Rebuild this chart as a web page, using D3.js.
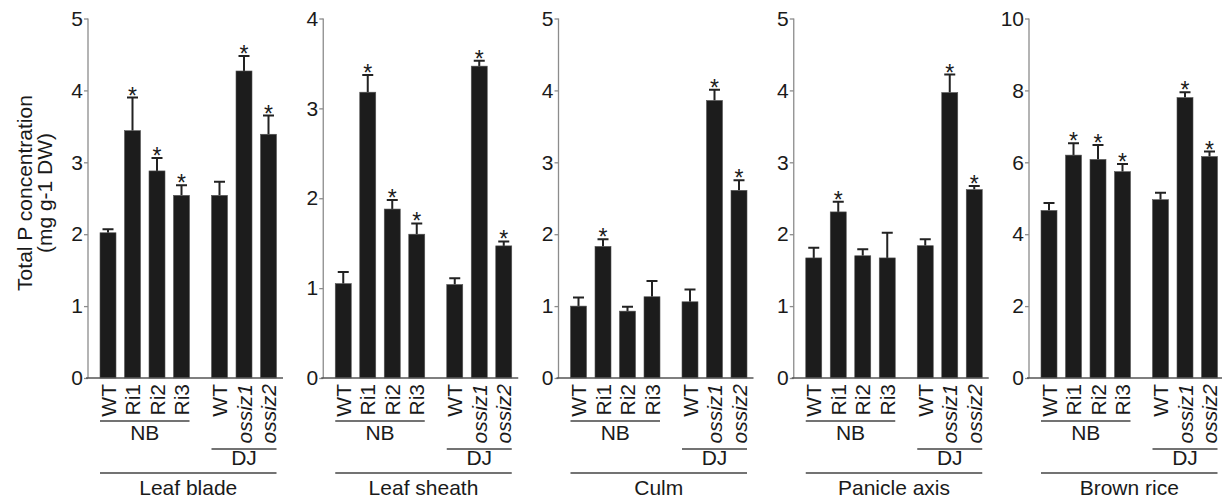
<!DOCTYPE html>
<html>
<head>
<meta charset="utf-8">
<script src="https://cdn.jsdelivr.net/npm/d3@7"></script>
<style>
  html, body { margin: 0; padding: 0; background: #fff; }
  svg { display: block; }
  text { font-family: "Liberation Sans", Arial, sans-serif; fill: #1a1a1a; }
</style>
</head>
<body>
<svg id="chart" width="1222" height="498"></svg>
<script>
// ---- data ----
const panelTitles = ["Leaf blade", "Leaf sheath", "Culm", "Panicle axis", "Brown rice"];
const categories = ["WT", "Ri1", "Ri2", "Ri3", "WT", "ossiz1", "ossiz2"];
const italicCats = [false, false, false, false, false, true, true];
const groupNames = ["NB", "DJ"];
const groupOf = [0, 0, 0, 0, 1, 1, 1];

const leafBlade      = [2.02, 3.44, 2.88, 2.54, 2.54, 4.27, 3.39];
const leafBladeErr   = [0.05, 0.46, 0.18, 0.14, 0.19, 0.21, 0.26];
const leafSheath     = [1.05, 3.18, 1.88, 1.60, 1.04, 3.47, 1.47];
const leafSheathErr  = [0.13, 0.19, 0.10, 0.12, 0.07, 0.06, 0.05];
const culm           = [1.00, 1.83, 0.93, 1.13, 1.06, 3.86, 2.61];
const culmErr        = [0.12, 0.10, 0.06, 0.22, 0.17, 0.15, 0.14];
const panicleAxis    = [1.67, 2.31, 1.70, 1.67, 1.84, 3.97, 2.62];
const panicleAxisErr = [0.14, 0.14, 0.09, 0.35, 0.09, 0.25, 0.05];
const brownRice      = [4.66, 6.20, 6.08, 5.74, 4.96, 7.80, 6.16];
const brownRiceErr   = [0.21, 0.33, 0.40, 0.21, 0.19, 0.15, 0.14];

const leafBladeSig   = [0, 1, 1, 1, 0, 1, 1];
const leafSheathSig  = [0, 1, 1, 1, 0, 1, 1];
const culmSig        = [0, 1, 0, 0, 0, 1, 1];
const panicleAxisSig = [0, 1, 0, 0, 0, 1, 1];
const brownRiceSig   = [0, 1, 1, 1, 0, 1, 1];

const yMax = [5, 4, 5, 5, 10];
const yTicks = [[0,1,2,3,4,5], [0,1,2,3,4], [0,1,2,3,4,5], [0,1,2,3,4,5], [0,2,4,6,8,10]];

const yLabel1 = "Total P concentration";
const yLabel2 = "(mg g-1 DW)";

const panelValues = [leafBlade, leafSheath, culm, panicleAxis, brownRice];
const panelErrors = [leafBladeErr, leafSheathErr, culmErr, panicleAxisErr, brownRiceErr];
const panelSig = [leafBladeSig, leafSheathSig, culmSig, panicleAxisSig, brownRiceSig];

// ---- layout ----
const svg = d3.select("#chart");
const y0 = 378, yTop = 18.5;
const axisX0 = 88, panelStep = 235.25;
const barOffset = 12, slot = 24.5, groupGap = 13.5, barW = 16;
const fontMain = 21;

const slotPos = categories.map((c, i) => i + (groupOf[i] === 1 ? groupGap / slot : 0));

panelTitles.forEach((title, p) => {
  const ax = axisX0 + p * panelStep;
  const g = svg.append("g");
  const y = d3.scaleLinear().domain([0, yMax[p]]).range([y0, yTop]);
  const x = d3.scaleLinear().domain([0, 1]).range([ax + barOffset, ax + barOffset + slot]);
  const vals = panelValues[p], errs = panelErrors[p], sig = panelSig[p];

  const yAxis = g.append("g").attr("transform", `translate(${ax},0)`)
    .call(d3.axisLeft(y).tickValues(yTicks[p]).tickSize(4).tickPadding(1).tickFormat(d3.format("d")));
  yAxis.select(".domain").attr("stroke", "#8c8c8c").attr("stroke-width", 1.3).attr("d", `M0,${y0}V${yTop}`);
  yAxis.selectAll(".tick line").attr("stroke", "#8c8c8c").attr("stroke-width", 1.3);
  yAxis.selectAll(".tick text").attr("font-size", 21).attr("font-family", '"Liberation Sans", Arial, sans-serif').attr("fill", "#1a1a1a");

  const data = vals.map((v, i) => ({ v, e: errs[i], s: sig[i], i }));
  g.selectAll(".err").data(data).enter().append("path")
    .attr("d", d => {
      const cx = x(slotPos[d.i]) + barW / 2;
      const yt = y(d.v + d.e);
      return `M${cx},${y(d.v)}V${yt}M${cx - 5.5},${yt}H${cx + 5.5}`;
    })
    .attr("stroke", "#222").attr("stroke-width", 2).attr("fill", "none");
  g.selectAll(".bar").data(data).enter().append("rect")
    .attr("x", d => x(slotPos[d.i]))
    .attr("width", barW)
    .attr("y", d => y(d.v))
    .attr("height", d => y0 - y(d.v))
    .attr("fill", "#1c1c1c")
    .attr("stroke", "#555").attr("stroke-width", 0.6);
  g.selectAll(".star").data(data.filter(d => d.s)).enter().append("text")
    .attr("x", d => x(slotPos[d.i]) + barW / 2)
    .attr("y", d => y(d.v + d.e) + 6)
    .attr("text-anchor", "middle")
    .attr("font-size", 23)
    .text("*");

  g.append("line").attr("x1", ax - 2).attr("x2", ax + 195).attr("y1", y0).attr("y2", y0)
    .attr("stroke", "#555").attr("stroke-width", 1.5);

  g.selectAll(".cat").data(categories).enter().append("text")
    .attr("transform", (c, i) => `translate(${x(slotPos[i]) + barW / 2 + 7.5},384) rotate(-90)`)
    .attr("text-anchor", "end")
    .attr("font-size", fontMain)
    .attr("font-style", (c, i) => italicCats[i] ? "italic" : "normal")
    .text(c => c);

  const lineY = [421, 449], textY = [440, 465];
  groupNames.forEach((gn, k) => {
    const idx = categories.map((c, i) => i).filter(i => groupOf[i] === k);
    const x1 = x(slotPos[idx[0]]), x2 = x(slotPos[idx[idx.length - 1]]) + barW;
    g.append("line").attr("x1", x1).attr("x2", x2).attr("y1", lineY[k]).attr("y2", lineY[k])
      .attr("stroke", "#444").attr("stroke-width", 1.3);
    g.append("text").attr("x", (x1 + x2) / 2).attr("y", textY[k])
      .attr("text-anchor", "middle").attr("font-size", fontMain).text(gn);
  });
  const xa = x(slotPos[0]), xb = x(slotPos[categories.length - 1]) + barW;
  g.append("line").attr("x1", xa).attr("x2", xb).attr("y1", 473).attr("y2", 473)
    .attr("stroke", "#444").attr("stroke-width", 1.3);
  g.append("text").attr("x", (xa + xb) / 2).attr("y", 495)
    .attr("text-anchor", "middle").attr("font-size", fontMain).text(title);
});

svg.append("text").attr("transform", "translate(32,193) rotate(-90)")
  .attr("text-anchor", "middle").attr("font-size", fontMain).text(yLabel1);
svg.append("text").attr("transform", "translate(52,193) rotate(-90)")
  .attr("text-anchor", "middle").attr("font-size", fontMain).text(yLabel2);
</script>
</body>
</html>
